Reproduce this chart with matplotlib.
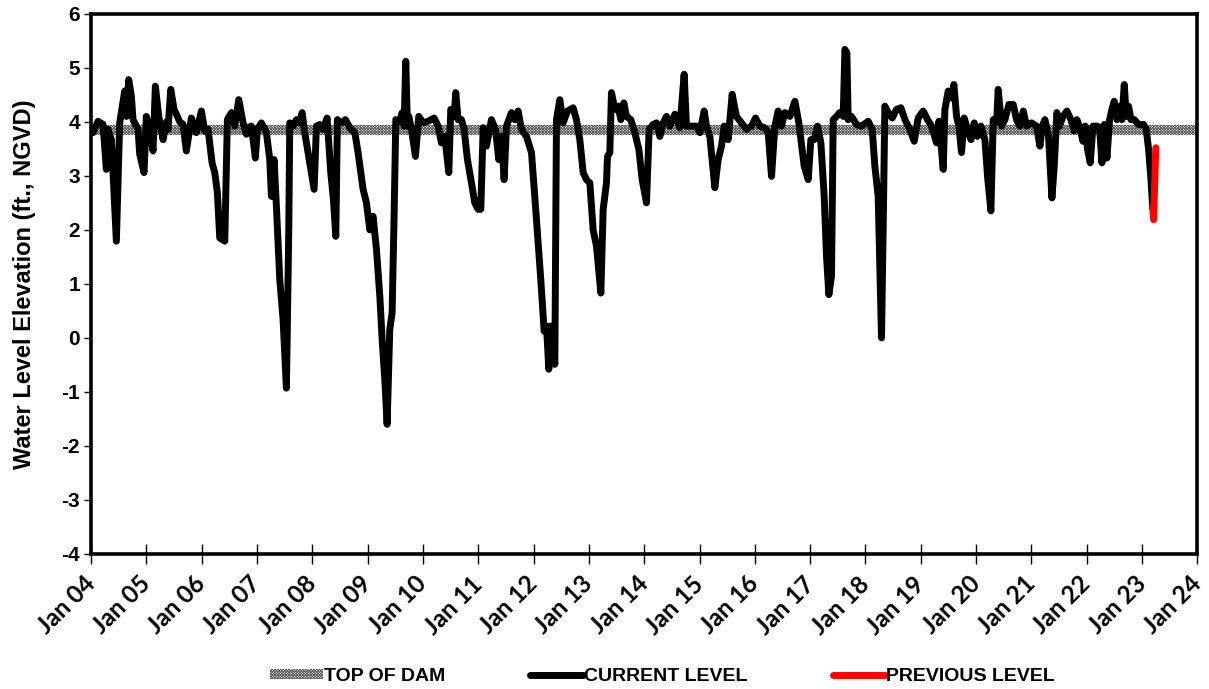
import numpy as np
import pandas as pd
import matplotlib
matplotlib.use("Agg")
import matplotlib.pyplot as plt
import matplotlib.dates as mdates
from matplotlib.patches import Patch
from matplotlib.lines import Line2D

# water level readings, x in decimal years
cur_years = [
    2004.000, 2004.036, 2004.127, 2004.217, 2004.277, 2004.307, 2004.368, 2004.458, 2004.518,
    2004.609, 2004.639, 2004.681, 2004.729, 2004.759, 2004.850, 2004.880, 2004.958, 2005.000,
    2005.061, 2005.121, 2005.163, 2005.224, 2005.302, 2005.362, 2005.392, 2005.441, 2005.501,
    2005.543, 2005.604, 2005.664, 2005.723, 2005.814, 2005.904, 2005.995, 2006.056, 2006.116,
    2006.188, 2006.237, 2006.284, 2006.327, 2006.418, 2006.465, 2006.537, 2006.599, 2006.671,
    2006.749, 2006.808, 2006.839, 2006.899, 2006.971, 2007.008, 2007.080, 2007.171, 2007.231,
    2007.261, 2007.309, 2007.351, 2007.412, 2007.472, 2007.532, 2007.575, 2007.593, 2007.653,
    2007.713, 2007.774, 2007.816, 2007.864, 2007.924, 2007.984, 2008.033, 2008.075, 2008.136,
    2008.195, 2008.268, 2008.334, 2008.382, 2008.425, 2008.454, 2008.527, 2008.599, 2008.678,
    2008.769, 2008.828, 2008.919, 2008.979, 2009.040, 2009.099, 2009.160, 2009.221, 2009.268,
    2009.311, 2009.353, 2009.401, 2009.443, 2009.479, 2009.510, 2009.582, 2009.624, 2009.660,
    2009.690, 2009.720, 2009.745, 2009.793, 2009.865, 2009.925, 2010.004, 2010.094, 2010.203,
    2010.275, 2010.335, 2010.395, 2010.468, 2010.504, 2010.564, 2010.594, 2010.636, 2010.697,
    2010.745, 2010.805, 2010.878, 2010.938, 2010.998, 2011.047, 2011.089, 2011.149, 2011.239,
    2011.312, 2011.372, 2011.420, 2011.468, 2011.511, 2011.601, 2011.661, 2011.722, 2011.782,
    2011.872, 2011.963, 2012.053, 2012.131, 2012.192, 2012.234, 2012.276, 2012.312, 2012.342,
    2012.385, 2012.415, 2012.475, 2012.535, 2012.613, 2012.716, 2012.776, 2012.837, 2012.897,
    2012.957, 2013.018, 2013.078, 2013.138, 2013.217, 2013.259, 2013.319, 2013.337, 2013.379,
    2013.409, 2013.470, 2013.530, 2013.578, 2013.633, 2013.680, 2013.759, 2013.831, 2013.904,
    2013.964, 2014.042, 2014.090, 2014.163, 2014.223, 2014.284, 2014.344, 2014.404, 2014.465,
    2014.555, 2014.646, 2014.723, 2014.765, 2014.855, 2014.946, 2015.007, 2015.085, 2015.127,
    2015.188, 2015.278, 2015.338, 2015.398, 2015.447, 2015.519, 2015.591, 2015.669, 2015.760,
    2015.850, 2015.941, 2016.013, 2016.092, 2016.182, 2016.242, 2016.303, 2016.363, 2016.423,
    2016.483, 2016.544, 2016.634, 2016.725, 2016.797, 2016.893, 2016.966, 2017.014, 2017.074,
    2017.134, 2017.195, 2017.255, 2017.297, 2017.339, 2017.387, 2017.418, 2017.478, 2017.539,
    2017.599, 2017.629, 2017.665, 2017.689, 2017.749, 2017.839, 2017.930, 2018.051, 2018.123,
    2018.171, 2018.231, 2018.291, 2018.322, 2018.352, 2018.412, 2018.485, 2018.562, 2018.642,
    2018.714, 2018.805, 2018.882, 2018.955, 2019.045, 2019.123, 2019.196, 2019.286, 2019.329,
    2019.407, 2019.437, 2019.497, 2019.557, 2019.600, 2019.648, 2019.690, 2019.738, 2019.786,
    2019.847, 2019.908, 2019.967, 2020.028, 2020.088, 2020.161, 2020.208, 2020.269, 2020.311,
    2020.371, 2020.401, 2020.462, 2020.522, 2020.594, 2020.673, 2020.733, 2020.793, 2020.854,
    2020.913, 2021.004, 2021.094, 2021.155, 2021.197, 2021.246, 2021.311, 2021.372, 2021.414,
    2021.462, 2021.511, 2021.571, 2021.643, 2021.716, 2021.776, 2021.824, 2021.884, 2021.933,
    2021.975, 2022.017, 2022.065, 2022.114, 2022.186, 2022.234, 2022.276, 2022.318, 2022.367,
    2022.415, 2022.457, 2022.499, 2022.548, 2022.608, 2022.638, 2022.680, 2022.716, 2022.758,
    2022.801, 2022.861, 2022.939, 2023.029, 2023.078, 2023.120, 2023.163, 2023.193,
]
cur_level = [
    3.80, 3.80, 4.01, 3.95, 3.12, 3.86, 3.67, 1.79, 3.98,
    4.57, 4.10, 4.78, 4.48, 4.04, 3.86, 3.40, 3.06, 4.10,
    3.86, 3.46, 4.66, 4.10, 3.67, 4.00, 3.86, 4.60, 4.23,
    4.14, 4.00, 3.95, 3.46, 4.07, 3.80, 4.20, 3.83, 3.86,
    3.24, 3.06, 2.69, 1.85, 1.79, 4.04, 4.17, 3.92, 4.41,
    3.98, 3.77, 3.89, 3.92, 3.33, 3.86, 3.98, 3.80, 3.30,
    2.62, 3.30, 2.44, 1.08, 0.34, -0.93, 2.00, 3.98, 3.92,
    4.04, 3.98, 4.17, 3.80, 3.43, 3.06, 2.75, 3.92, 3.95,
    3.86, 4.07, 3.06, 2.56, 1.88, 4.04, 3.98, 4.04, 3.89,
    3.80, 3.43, 2.75, 2.50, 2.00, 2.25, 1.64, 0.77, -0.12,
    -0.77, -1.60, 0.16, 0.46, 2.25, 4.04, 4.00, 4.17, 3.92,
    5.12, 3.92, 4.10, 3.86, 3.36, 4.10, 3.98, 4.01, 4.07,
    3.92, 3.61, 3.73, 3.06, 4.23, 4.10, 4.54, 4.04, 4.04,
    3.86, 3.30, 2.87, 2.50, 2.38, 2.38, 3.89, 3.55, 4.04,
    3.86, 3.30, 3.73, 2.93, 3.92, 4.17, 4.04, 4.20, 3.86,
    3.73, 3.43, 2.19, 1.08, 0.12, 0.22, -0.58, 0.22, 0.03,
    -0.49, 4.04, 4.41, 3.98, 4.20, 4.26, 4.04, 3.67, 3.06,
    2.93, 2.87, 2.00, 1.70, 0.83, 2.38, 2.87, 3.36, 3.43,
    4.54, 4.23, 4.29, 4.04, 4.35, 4.10, 4.04, 3.80, 3.49,
    2.93, 2.50, 3.86, 3.95, 3.98, 3.73, 3.98, 4.10, 3.92,
    4.14, 3.89, 4.88, 3.92, 3.92, 3.92, 3.80, 4.20, 3.92,
    3.73, 2.78, 3.30, 3.55, 3.92, 3.67, 4.51, 4.10, 3.98,
    3.86, 3.92, 4.07, 3.92, 3.89, 3.80, 2.99, 3.92, 4.20,
    3.92, 4.17, 4.10, 4.38, 3.98, 3.18, 2.93, 3.67, 3.67,
    3.92, 3.61, 2.62, 1.51, 0.80, 1.14, 4.04, 4.10, 4.17,
    4.10, 5.34, 5.28, 4.04, 4.10, 3.95, 3.92, 4.01, 3.86,
    3.18, 2.62, 0.00, 2.07, 4.29, 4.17, 4.07, 4.23, 4.26,
    4.04, 3.86, 3.64, 4.07, 4.20, 4.04, 3.92, 3.61, 4.01,
    3.12, 4.23, 4.57, 4.44, 4.69, 4.10, 3.92, 3.43, 4.07,
    3.86, 3.67, 3.98, 3.73, 3.92, 3.67, 2.99, 2.35, 4.04,
    3.98, 4.60, 3.92, 4.04, 4.32, 4.32, 4.04, 3.92, 4.20,
    3.92, 3.98, 3.92, 3.55, 3.92, 4.04, 3.73, 2.59, 3.18,
    4.17, 3.92, 4.10, 4.20, 4.04, 3.83, 4.04, 3.86, 3.64,
    3.92, 3.49, 3.24, 3.92, 3.92, 3.89, 3.24, 3.95, 3.33,
    4.04, 4.23, 4.38, 4.04, 4.29, 4.04, 4.69, 4.10, 4.29,
    4.04, 4.04, 3.95, 3.95, 3.86, 3.49, 2.93, 2.41,
]
prev_years = [2023.193, 2023.210, 2023.250]
prev_level = [2.41, 2.19, 3.52]

dam_low = 3.75
dam_high = 3.94

y_ticks = list(range(-4, 7))


def to_dates(years):
    years = np.asarray(years, dtype=float)
    return pd.Timestamp("2004-01-01") + pd.to_timedelta((years - 2004) * 365.25, unit="D")


plt.rcParams["hatch.linewidth"] = 0.6
hatch = "x" * 12
hatch_col = "#555555"

fig = plt.figure(figsize=(12.09, 6.89), dpi=100)
ax = fig.add_axes([0.0753, 0.196, 0.915, 0.784])

x0 = pd.Timestamp("2004-01-01")
x1 = pd.Timestamp("2024-01-01")

ax.fill_between([x0, x1], dam_low, dam_high, facecolor="white", edgecolor=hatch_col,
                hatch=hatch, linewidth=0, zorder=1)
ax.plot(to_dates(cur_years), cur_level, color="black", lw=5,
        solid_joinstyle="round", solid_capstyle="round", zorder=3)
ax.plot(to_dates(prev_years), prev_level, color="red", lw=5,
        solid_joinstyle="round", solid_capstyle="round", zorder=4)

ax.set_xlim(x0, x1)
ax.set_ylim(-4, 6)
ax.set_yticks(y_ticks)
ax.set_yticklabels([str(v) for v in y_ticks], fontsize=15, fontweight="bold",
                   family="Liberation Sans")

ax.xaxis.set_major_locator(mdates.YearLocator())
ax.xaxis.set_major_formatter(mdates.DateFormatter("Jan %y"))
for lab in ax.get_xticklabels():
    lab.set_rotation(45)
    lab.set_ha("right")
    lab.set_va("center")
    lab.set_rotation_mode("anchor")
    lab.set_fontsize(17.5)
    lab.set_fontweight("bold")
    lab.set_family("Lato")

ax.tick_params(axis="y", direction="out", length=5, width=1, pad=3)
ax.tick_params(axis="x", direction="inout", length=14, width=1, pad=12)

for sp in ax.spines.values():
    sp.set_linewidth(2.6)

ax.set_ylabel("Water Level Elevation (ft., NGVD)", fontsize=17, fontweight="bold",
              family="Liberation Sans")
ax.yaxis.set_label_coords(-0.05, 0.5)

handles = [
    Patch(facecolor="white", edgecolor=hatch_col, hatch=hatch, linewidth=0),
    Line2D([], [], color="black", lw=5, solid_capstyle="round"),
    Line2D([], [], color="red", lw=5, solid_capstyle="round"),
]
labels = ["TOP OF DAM", "CURRENT LEVEL", "PREVIOUS LEVEL"]
fig.legend(handles, labels, loc="center", bbox_to_anchor=(0.548, 0.018), ncol=3,
           frameon=False, handlelength=2.7, handleheight=0.4, handletextpad=0.05,
           columnspacing=4.4,
           prop={"family": "Liberation Sans", "weight": "bold", "size": 14})

fig.savefig("out.png", dpi=100)
